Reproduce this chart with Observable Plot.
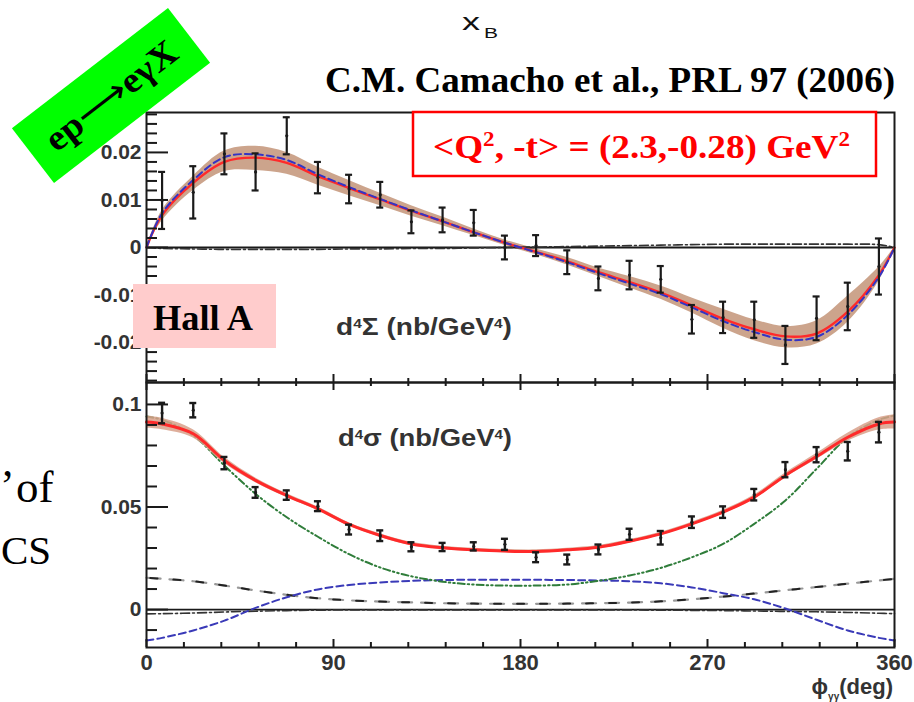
<!DOCTYPE html>
<html><head><meta charset="utf-8">
<script src="https://cdn.jsdelivr.net/npm/d3@7"></script>
<script src="https://cdn.jsdelivr.net/npm/@observablehq/plot@0.6"></script>
<style>
html,body{margin:0;padding:0;background:#fff;}
#wrap{position:relative;width:914px;height:702px;overflow:hidden;background:#fff;}
#wrap > svg{position:absolute;left:0;}
</style></head><body><div id="wrap"></div>
<script>
// ---------- data ----------
const phiBins = [7.5, 22.5, 37.5, 52.5, 67.5, 82.5, 97.5, 112.5, 127.5, 142.5, 157.5, 172.5,
                 187.5, 202.5, 217.5, 232.5, 247.5, 262.5, 277.5, 292.5, 307.5, 322.5, 337.5, 352.5];
// d4Sigma (helicity difference) data
const diffVal = [0.0099, 0.0116, 0.0197, 0.0159, 0.0235, 0.0147, 0.0123, 0.0111, 0.0054, 0.0058, 0.0052, 0.0000,
                 0.0004, -0.0031, -0.0065, -0.0058, -0.0067, -0.0151, -0.0147, -0.0152, -0.0205, -0.0149, -0.0124, -0.0040];
const diffErr = [0.0060, 0.0055, 0.0043, 0.0039, 0.0039, 0.0033, 0.0030, 0.0027, 0.0024, 0.0026, 0.0027, 0.0025,
                 0.0022, 0.0025, 0.0025, 0.0030, 0.0028, 0.0030, 0.0033, 0.0038, 0.0040, 0.0046, 0.0050, 0.0059];
// d4sigma (cross section) data
const sumVal = [0.0958, 0.0972, 0.0714, 0.0571, 0.0558, 0.0504, 0.0390, 0.0360, 0.0306, 0.0305, 0.0308, 0.0318,
                0.0255, 0.0244, 0.0293, 0.0367, 0.0350, 0.0426, 0.0475, 0.0560, 0.0682, 0.0755, 0.0772, 0.0865];
const sumErr = [0.0050, 0.0035, 0.0030, 0.0026, 0.0023, 0.0024, 0.0024, 0.0026, 0.0022, 0.0020, 0.0020, 0.0027,
                0.0024, 0.0024, 0.0024, 0.0027, 0.0033, 0.0028, 0.0028, 0.0028, 0.0037, 0.0037, 0.0045, 0.0050];

// curves, sampled at these angles
const curvePhi = [0, 7.5, 22.5, 37.5, 52.5, 67.5, 82.5, 97.5, 112.5, 127.5, 142.5, 157.5, 172.5,
                  187.5, 202.5, 217.5, 232.5, 247.5, 262.5, 277.5, 292.5, 307.5, 322.5, 337.5, 352.5, 360];
const diffFit  = [0, 0.0068, 0.0136, 0.0180, 0.0189, 0.0178, 0.0150, 0.0125, 0.0101, 0.0077, 0.0055, 0.0032, 0.0010,
                  -0.0009, -0.0029, -0.0052, -0.0073, -0.0095, -0.0122, -0.0150, -0.0172, -0.0187, -0.0181, -0.0135, -0.0058, 0];
const diffBlue = [0, 0.0072, 0.0142, 0.0190, 0.0196, 0.0184, 0.0154, 0.0127, 0.0102, 0.0078, 0.0055, 0.0032, 0.0010,
                  -0.0010, -0.0031, -0.0054, -0.0076, -0.0098, -0.0126, -0.0155, -0.0178, -0.0194, -0.0188, -0.0142, -0.0062, 0];
const diffBandLo = [0, 0.0056, 0.0120, 0.0160, 0.0162, 0.0154, 0.0131, 0.0109, 0.0088, 0.0066, 0.0046, 0.0025, 0.0004,
                  -0.0015, -0.0037, -0.0061, -0.0085, -0.0109, -0.0138, -0.0170, -0.0196, -0.0211, -0.0203, -0.0157, -0.0071, 0];
const diffBandHi = [0, 0.0078, 0.0150, 0.0203, 0.0213, 0.0200, 0.0169, 0.0141, 0.0114, 0.0088, 0.0064, 0.0039, 0.0016,
                  -0.0003, -0.0021, -0.0043, -0.0061, -0.0081, -0.0106, -0.0130, -0.0152, -0.0166, -0.0154, -0.0102, -0.0041, 0];
const diffDashDot = [0, -0.0002, -0.0003, -0.0004, -0.0004, -0.0004, -0.0004, -0.0003, -0.0003, -0.0002, -0.0002, -0.0001, 0,
                  0.0001, 0.0002, 0.0003, 0.0004, 0.0005, 0.0006, 0.0007, 0.0007, 0.0007, 0.0007, 0.0007, 0.0006, 0];

const sumFit    = [0.0914, 0.0905, 0.0857, 0.0727, 0.0630, 0.0556, 0.0491, 0.0415, 0.0361, 0.0320, 0.0301, 0.0291, 0.0285,
                   0.0283, 0.0291, 0.0304, 0.0333, 0.0369, 0.0418, 0.0475, 0.0548, 0.0654, 0.0746, 0.0840, 0.0905, 0.0914];
const sumBandLo = [0.0884, 0.0877, 0.0837, 0.0712, 0.0618, 0.0546, 0.0482, 0.0407, 0.0353, 0.0312, 0.0293, 0.0283, 0.0277,
                   0.0275, 0.0283, 0.0296, 0.0325, 0.0361, 0.0410, 0.0466, 0.0538, 0.0642, 0.0731, 0.0820, 0.0875, 0.0880];
const sumBandHi = [0.0944, 0.0933, 0.0877, 0.0742, 0.0642, 0.0566, 0.0500, 0.0423, 0.0369, 0.0328, 0.0309, 0.0299, 0.0293,
                   0.0291, 0.0299, 0.0312, 0.0341, 0.0377, 0.0426, 0.0484, 0.0558, 0.0666, 0.0761, 0.0860, 0.0935, 0.0950];
const sumGreen  = [0.0941, 0.0925, 0.0849, 0.0702, 0.0564, 0.0450, 0.0355, 0.0270, 0.0205, 0.0162, 0.0136, 0.0122, 0.0117,
                   0.0117, 0.0122, 0.0140, 0.0166, 0.0203, 0.0255, 0.0320, 0.0418, 0.0532, 0.0686, 0.0840, 0.0925, 0.0946];
const sumBlue   = [-0.0151, -0.0138, -0.0102, -0.0054, 0.0008, 0.0060, 0.0098, 0.0120, 0.0132, 0.0140, 0.0144, 0.0145, 0.0145,
                   0.0145, 0.0144, 0.0142, 0.0138, 0.0128, 0.0108, 0.0080, 0.0050, 0.0005, -0.0050, -0.0102, -0.0138, -0.0151];
const sumLongDash = [0.0155, 0.0150, 0.0138, 0.0117, 0.0093, 0.0072, 0.0055, 0.0045, 0.0039, 0.0035, 0.0031, 0.0029, 0.0028,
                   0.0028, 0.0029, 0.0031, 0.0034, 0.0040, 0.0050, 0.0063, 0.0078, 0.0094, 0.0110, 0.0126, 0.0142, 0.0150];
const sumDashDot = [-0.0021, -0.0020, -0.0017, -0.0012, -0.0008, -0.0005, -0.0003, -0.0002, -0.0002, -0.0002, -0.0002, -0.0002, -0.0002,
                   -0.0002, -0.0002, -0.0002, -0.0002, -0.0003, -0.0004, -0.0005, -0.0007, -0.0009, -0.0011, -0.0014, -0.0018, -0.0020];

// ticks
const xMajorTicks = [0, 90, 180, 270, 360];
const xMinorTicks = [18, 36, 54, 72, 108, 126, 144, 162, 198, 216, 234, 252, 288, 306, 324, 342];
const xTickLabels = ["0", "90", "180", "270", "360"];
const diffMajorTicks = [-0.02, -0.01, 0, 0.01, 0.02];
const diffTickLabels = ["-0.02", "-0.01", "0", "0.01", "0.02"];
const diffMinorTicks = [-0.028, -0.026, -0.024, -0.022, -0.018, -0.016, -0.014, -0.012, -0.008, -0.006, -0.004, -0.002,
                        0.002, 0.004, 0.006, 0.008, 0.012, 0.014, 0.016, 0.018, 0.022, 0.024, 0.026, 0.028];
const sumMajorTicks = [0, 0.05, 0.1];
const sumTickLabels = ["0", "0.05", "0.1"];
const sumMinorTicks = [-0.01, 0.01, 0.02, 0.03, 0.04, 0.06, 0.07, 0.08, 0.09];

// ---------- build tables ----------
const diffPts = phiBins.map((p, i) => ({phi: p, v: diffVal[i], e: diffErr[i]}));
const sumPts = phiBins.map((p, i) => ({phi: p, v: sumVal[i], e: sumErr[i]}));
const diffCurve = curvePhi.map((p, i) => ({phi: p, fit: diffFit[i], blue: diffBlue[i], lo: diffBandLo[i], hi: diffBandHi[i], dd: diffDashDot[i]}));
const sumCurve = curvePhi.map((p, i) => ({phi: p, fit: sumFit[i], lo: sumBandLo[i], hi: sumBandHi[i], green: sumGreen[i],
  blue: sumBlue[i], ld: sumLongDash[i], dd: sumDashDot[i]}));

const curve = "catmull-rom";
const INK = "#1a1a1a";
const FW = 748; // frame width in px

function errMarks(pts, sw, cap) {
  return [
    Plot.ruleX(pts, {x: "phi", y1: d => d.v - d.e, y2: d => d.v + d.e, stroke: INK, strokeWidth: sw}),
    Plot.ruleY(pts, {y: d => d.v + d.e, x1: "phi", x2: "phi", insetLeft: -cap, insetRight: -cap, stroke: INK, strokeWidth: sw}),
    Plot.ruleY(pts, {y: d => d.v - d.e, x1: "phi", x2: "phi", insetLeft: -cap, insetRight: -cap, stroke: INK, strokeWidth: sw}),
    Plot.dot(pts, {x: "phi", y: "v", r: 1.6, fill: INK})
  ];
}
const labelFont = {fontSize: 21, fontWeight: "bold", fontFamily: "Liberation Sans, Arial, sans-serif", color: "#333"};

// ---------- top panel ----------
const topH = 270;
const topPlot = Plot.plot({
  width: 914, height: topH + 4, marginLeft: 146, marginRight: 20, marginTop: 2, marginBottom: 2,
  x: {domain: [0, 360], axis: null},
  y: {domain: [-0.0284, 0.0284]},
  style: {background: "transparent", overflow: "visible"},
  marks: [
    Plot.areaY(diffCurve, {x: "phi", y1: "lo", y2: "hi", curve, fill: "#c79a80", fillOpacity: 0.9}),
    Plot.ruleY([0], {stroke: INK, strokeWidth: 1.8}),
    Plot.line(diffCurve, {x: "phi", y: "dd", curve, stroke: "#333", strokeWidth: 1.6, strokeDasharray: "9,3,2,3"}),
    Plot.line(diffCurve, {x: "phi", y: "fit", curve, stroke: "#ff2a2a", strokeWidth: 2.4}),
    Plot.line(diffCurve, {x: "phi", y: "blue", curve, stroke: "#3434c4", strokeWidth: 2, strokeDasharray: "7,4"}),
    ...errMarks(diffPts, 2.2, 3.5),
    Plot.ruleY(diffMajorTicks, {insetRight: FW - 22, stroke: INK, strokeWidth: 2}),
    Plot.ruleY(diffMinorTicks, {insetRight: FW - 11, stroke: INK, strokeWidth: 2}),
    Plot.ruleX(xMajorTicks, {insetTop: topH - 8, stroke: INK, strokeWidth: 2}),
    Plot.ruleX(xMinorTicks, {insetTop: topH - 4, stroke: INK, strokeWidth: 2}),
    Plot.axisY(diffMajorTicks, {tickSize: 0, tickPadding: 5, tickFormat: d => diffTickLabels[diffMajorTicks.indexOf(d)], label: null, ...labelFont}),
    Plot.frame({stroke: INK, strokeWidth: 2})
  ]
});

// ---------- bottom panel ----------
const botH = 265;
const botPlot = Plot.plot({
  width: 914, height: botH + 2 + 55, marginLeft: 146, marginRight: 20, marginTop: 2, marginBottom: 55,
  x: {domain: [0, 360]},
  y: {domain: [-0.0185, 0.1107]},
  style: {background: "transparent", overflow: "visible"},
  marks: [
    Plot.ruleY([0], {stroke: INK, strokeWidth: 1.8}),
    Plot.line(sumCurve, {x: "phi", y: "dd", curve, stroke: "#333", strokeWidth: 1.6, strokeDasharray: "9,3,2,3"}),
    Plot.line(sumCurve, {x: "phi", y: "ld", curve, stroke: "#999", strokeWidth: 2.2, strokeDasharray: "14,9"}),
    Plot.line(sumCurve, {x: "phi", y: "ld", curve, stroke: "#222", strokeWidth: 2, strokeDasharray: "7,16", strokeDashoffset: -4}),
    Plot.line(sumCurve, {x: "phi", y: "blue", curve, stroke: "#3a3ab8", strokeWidth: 2, strokeDasharray: "7,4"}),
    Plot.line(sumCurve, {x: "phi", y: "green", curve, stroke: "#2f7d3a", strokeWidth: 2, strokeDasharray: "7,3,1.5,3,1.5,3"}),
    Plot.areaY(sumCurve, {x: "phi", y1: "lo", y2: "hi", curve, fill: "#d8a08a", fillOpacity: 0.85}),
    Plot.line(sumCurve, {x: "phi", y: "fit", curve, stroke: "#ff2a2a", strokeWidth: 3}),
    ...errMarks(sumPts, 2.4, 3.5),
    Plot.ruleY(sumMajorTicks, {insetRight: FW - 22, stroke: INK, strokeWidth: 2}),
    Plot.ruleY(sumMinorTicks, {insetRight: FW - 11, stroke: INK, strokeWidth: 2}),
    Plot.ruleX(xMajorTicks, {insetTop: botH - 8, stroke: INK, strokeWidth: 2}),
    Plot.ruleX(xMinorTicks, {insetTop: botH - 5, stroke: INK, strokeWidth: 2}),
    Plot.ruleX(xMajorTicks, {insetBottom: botH - 8, stroke: INK, strokeWidth: 2}),
    Plot.ruleX(xMinorTicks, {insetBottom: botH - 4, stroke: INK, strokeWidth: 2}),
    Plot.axisY(sumMajorTicks, {tickSize: 0, tickPadding: 5, tickFormat: d => sumTickLabels[sumMajorTicks.indexOf(d)], label: null, ...labelFont}),
    Plot.axisX(xMajorTicks, {tickSize: 0, tickPadding: 7, tickFormat: d => xTickLabels[xMajorTicks.indexOf(d)], label: null, ...labelFont, fontSize: 22}),
    Plot.frame({stroke: INK, strokeWidth: 2})
  ]
});

const wrap = document.getElementById("wrap");
topPlot.style.top = "110px";
botPlot.style.top = "380px";
wrap.appendChild(topPlot);
wrap.appendChild(botPlot);

// ---------- annotations overlay ----------
const svg = d3.select(wrap).append("svg").attr("width", 914).attr("height", 702).style("top", "0px");
const SERIF = "Liberation Serif, Times New Roman, serif";
const SANS = "Liberation Sans, Arial, sans-serif";

function addText(parent, parts, attrs) {
  const t = parent.append("text");
  for (const [k, v] of Object.entries(attrs)) t.attr(k, v);
  for (const p of parts) {
    const s = t.append("tspan").text(p.t);
    if (p.sup) s.attr("baseline-shift", "super").attr("font-size", p.size || "62%");
    if (p.sub) s.attr("baseline-shift", "sub").attr("font-size", p.size || "55%");
    if (p.weight) s.attr("font-weight", p.weight);
  }
  return t;
}

// x_B
addText(svg, [{t: "x"}], {x: 462, y: 30, "font-family": SANS, "font-size": 24, fill: "#111", textLength: 18, lengthAdjust: "spacingAndGlyphs"});
addText(svg, [{t: "B"}], {x: 484, y: 38, "font-family": SANS, "font-size": 15, fill: "#111", textLength: 14, lengthAdjust: "spacingAndGlyphs"});

// citation
addText(svg, [{t: "C.M. Camacho et al., PRL 97 (2006)"}], {x: 325, y: 92, "font-family": SERIF, "font-weight": "bold",
  "font-size": 35, fill: "#000", textLength: 570, lengthAdjust: "spacingAndGlyphs"});

// red kinematics box
svg.append("rect").attr("x", 413).attr("y", 112).attr("width", 463).attr("height", 64).attr("fill", "#fff")
  .attr("stroke", "#ff0000").attr("stroke-width", 2.5);
addText(svg, [{t: "<Q"}, {t: "2", sup: true}, {t: ", -t> = (2.3,-0.28) GeV"}, {t: "2", sup: true}],
  {x: 433, y: 158, "font-family": SERIF, "font-weight": "bold", "font-size": 34, fill: "#ff0000", textLength: 417, lengthAdjust: "spacingAndGlyphs"});

// green reaction box
const g = svg.append("g").attr("transform", "translate(111,95.5) rotate(-37.6)");
g.append("rect").attr("x", -98.5).attr("y", -34.5).attr("width", 197).attr("height", 69).attr("fill", "#00ff00");
addText(g, [{t: "ep"}, {t: "⟶", weight: "normal"}, {t: "eγX"}], {x: 0, y: 12, "text-anchor": "middle", "font-family": SERIF, "font-weight": "bold",
  "font-size": 36, fill: "#000", textLength: 157, lengthAdjust: "spacingAndGlyphs"});

// Hall A box
svg.append("rect").attr("x", 133).attr("y", 284).attr("width", 143).attr("height", 64).attr("fill", "#ffcccc");
addText(svg, [{t: "Hall A"}], {x: 153, y: 330, "font-family": SERIF, "font-weight": "bold", "font-size": 35, fill: "#000",
  textLength: 100, lengthAdjust: "spacingAndGlyphs"});

// panel labels
addText(svg, [{t: "d"}, {t: "4", sup: true, size: "55%"}, {t: "Σ (nb/GeV"}, {t: "4", sup: true, size: "55%"}, {t: ")"}],
  {x: 336, y: 335, "font-family": SANS, "font-weight": "bold", "font-size": 23, fill: "#333", textLength: 176, lengthAdjust: "spacingAndGlyphs"});
addText(svg, [{t: "d"}, {t: "4", sup: true, size: "55%"}, {t: "σ (nb/GeV"}, {t: "4", sup: true, size: "55%"}, {t: ")"}],
  {x: 338, y: 446, "font-family": SANS, "font-weight": "bold", "font-size": 23, fill: "#333", textLength: 174, lengthAdjust: "spacingAndGlyphs"});

// x-axis title
addText(svg, [{t: "ϕ"}, {t: "γγ", sub: true, size: 10}, {t: "(deg)"}],
  {x: 893, y: 694, "text-anchor": "end", "font-family": SANS, "font-weight": "bold", "font-size": 22, fill: "#333"});

// slide text fragments at the left edge
addText(svg, [{t: "’"}], {x: 0, y: 500, "font-family": SERIF, "font-size": 44, fill: "#000"});
addText(svg, [{t: "of"}], {x: 16, y: 502, "font-family": SERIF, "font-size": 45, fill: "#000"});
addText(svg, [{t: "CS"}], {x: 1, y: 564, "font-family": SERIF, "font-size": 41, fill: "#000"});
</script></body></html>
